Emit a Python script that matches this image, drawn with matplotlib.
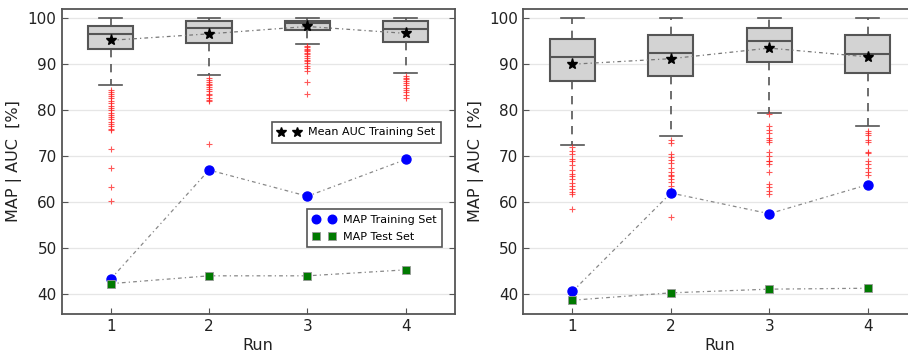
import matplotlib
matplotlib.use("Agg")
import matplotlib.pyplot as plt
import numpy as np

runs = [1, 2, 3, 4]

# Left panel box statistics (AUC per run)
left_q1 = [93.3, 94.6, 97.4, 94.9]
left_med = [96.5, 97.8, 98.9, 97.6]
left_q3 = [98.4, 99.5, 99.5, 99.5]
left_wlo = [85.5, 87.7, 94.4, 88.1]
left_whi = [100.0, 100.0, 100.0, 100.0]
left_fliers = [
    [84.5, 84.0, 83.5, 83.0, 82.6, 82.0, 81.5, 81.0, 80.5, 80.0, 79.5, 79.0,
     78.5, 78.0, 77.5, 77.0, 76.5, 76.0, 75.7, 71.6, 67.4, 63.3, 60.3],
    [87.0, 86.6, 86.2, 85.8, 85.4, 85.0, 84.6, 84.1, 83.6, 83.2, 82.7, 82.3, 81.9, 72.6],
    [94.0, 93.7, 93.4, 93.1, 92.8, 92.5, 92.2, 91.8, 91.4, 91.0, 90.6, 90.2,
     89.7, 89.2, 88.5, 86.1, 83.5],
    [87.5, 87.1, 86.7, 86.3, 85.9, 85.4, 84.9, 84.4, 83.9, 83.3, 82.6],
]
left_mean_auc = [95.2, 96.6, 98.2, 96.7]
left_map_train = [43.3, 67.0, 61.3, 69.3]
left_map_test = [42.3, 44.0, 44.0, 45.3]

# Right panel box statistics
right_q1 = [86.4, 87.5, 90.5, 88.1]
right_med = [91.5, 92.5, 95.1, 92.2]
right_q3 = [95.5, 96.4, 97.9, 96.4]
right_wlo = [72.5, 74.3, 79.4, 76.5]
right_whi = [100.0, 100.0, 100.0, 100.0]
right_fliers = [
    [72.0, 71.2, 70.5, 69.5, 68.9, 68.0, 67.0, 66.2, 65.6, 65.0, 64.2, 63.5, 62.8, 62.2, 61.8, 58.5],
    [73.5, 72.8, 70.5, 69.8, 69.2, 68.5, 67.5, 66.5, 66.0, 65.6, 65.0, 64.3, 63.5, 56.8],
    [79.1, 76.5, 75.8, 75.0, 74.0, 73.5, 73.0, 71.0, 70.0, 69.0, 68.9, 68.2, 66.6, 64.0, 63.2, 62.5, 61.8],
    [75.4, 75.0, 74.6, 73.5, 73.0, 71.0, 70.7, 69.0, 68.3, 67.5, 66.6, 66.0],
]
right_mean_auc = [90.0, 91.2, 93.5, 91.6]
right_map_train = [40.6, 62.0, 57.5, 63.8]
right_map_test = [38.7, 40.3, 41.1, 41.3]

yticks = [40, 50, 60, 70, 80, 90, 100]
legend_auc = "Mean AUC Training Set"
legend_map_train = "MAP Training Set"
legend_map_test = "MAP Test Set"
xlabel = "Run"
ylabel = "MAP | AUC  [%]"

EDGE = "#555555"
LINE_DASH = (0, (3, 2.5, 1, 2.5))
fig = plt.figure(figsize=(9.08, 3.52), dpi=100)
ax1 = fig.add_axes([61.5 / 908, 1 - 314 / 352, 393.5 / 908, 305 / 352])
ax2 = fig.add_axes([523.3 / 908, 1 - 314 / 352, 393.5 / 908, 305 / 352])


def draw(ax, q1, med, q3, wlo, whi, fliers, mean_auc, mtrain, mtest, legends):
    stats = []
    for i in range(len(runs)):
        stats.append(dict(q1=q1[i], med=med[i], q3=q3[i], whislo=wlo[i],
                          whishi=whi[i], fliers=fliers[i]))
    ax.bxp(stats, positions=runs, widths=0.46, patch_artist=True,
           showfliers=True,
           boxprops=dict(facecolor="#d3d3d3", edgecolor=EDGE, linewidth=1.5),
           medianprops=dict(color=EDGE, linewidth=1.5),
           whiskerprops=dict(color=EDGE, linewidth=1.2, linestyle=(0, (5, 4))),
           capprops=dict(color=EDGE, linewidth=1.2),
           flierprops=dict(marker="+", color="red", markeredgecolor="#ff2020",
                           markerfacecolor="red", markersize=5,
                           alpha=0.75, linestyle="none", markeredgewidth=0.8),
           zorder=2)
    l_auc, = ax.plot(runs, mean_auc, linestyle=LINE_DASH, color="#777777", lw=0.9,
                     marker="*", markersize=8, markerfacecolor="black",
                     markeredgecolor="black", zorder=4)
    l_tr, = ax.plot(runs, mtrain, linestyle=LINE_DASH, color="#888888", lw=0.9,
                    marker="o", markersize=6.5, markerfacecolor="#0000ff",
                    markeredgecolor="#0000ff", zorder=4)
    l_te, = ax.plot(runs, mtest, linestyle=LINE_DASH, color="#888888", lw=0.9,
                    marker="s", markersize=6.2, markerfacecolor="#007a00",
                    markeredgecolor="#999999", markeredgewidth=0.6, zorder=4)
    ax.set_xlim(0.5, 4.5)
    ax.set_ylim(35.7, 102.0)
    ax.set_yticks(yticks)
    ax.set_xticks(runs)
    ax.set_xticklabels([str(r) for r in runs])
    ax.yaxis.grid(True, color="#e6e6e6", linewidth=0.9, zorder=0)
    ax.set_axisbelow(True)
    ax.tick_params(direction="in", length=4, width=0.8, color=EDGE,
                   labelsize=11, top=False, right=True, left=True,
                   labelcolor="#222222")
    for s in ax.spines.values():
        s.set_color(EDGE)
        s.set_linewidth(1.3)
    ax.set_xlabel(xlabel, fontsize=11.5, color="#222222", labelpad=3)
    ax.set_ylabel(ylabel, fontsize=11.5, color="#222222", labelpad=4)
    if legends:
        leg1 = ax.legend([l_auc], [legend_auc], loc="upper right",
                         bbox_to_anchor=(0.964, 0.630), borderaxespad=0,
                         numpoints=2, handlelength=2.05, fontsize=8,
                         fancybox=False, framealpha=1, edgecolor=EDGE,
                         borderpad=0.5, handletextpad=0.7, markerscale=0.95)
        leg1.get_frame().set_linewidth(1.2)
        for h in leg1.legend_handles:
            h.set_linestyle("none")
        ax.add_artist(leg1)
        leg2 = ax.legend([l_tr, l_te], [legend_map_train, legend_map_test],
                         loc="upper right", bbox_to_anchor=(0.967, 0.343),
                         borderaxespad=0, numpoints=2, handlelength=2.05,
                         fontsize=8, fancybox=False, framealpha=1,
                         edgecolor=EDGE, borderpad=0.5, handletextpad=0.7,
                         labelspacing=0.6, markerscale=0.95)
        leg2.get_frame().set_linewidth(1.2)
        for h in leg2.legend_handles:
            h.set_linestyle("none")


draw(ax1, left_q1, left_med, left_q3, left_wlo, left_whi, left_fliers,
     left_mean_auc, left_map_train, left_map_test, True)
draw(ax2, right_q1, right_med, right_q3, right_wlo, right_whi, right_fliers,
     right_mean_auc, right_map_train, right_map_test, False)

fig.savefig("out.png", dpi=100)
